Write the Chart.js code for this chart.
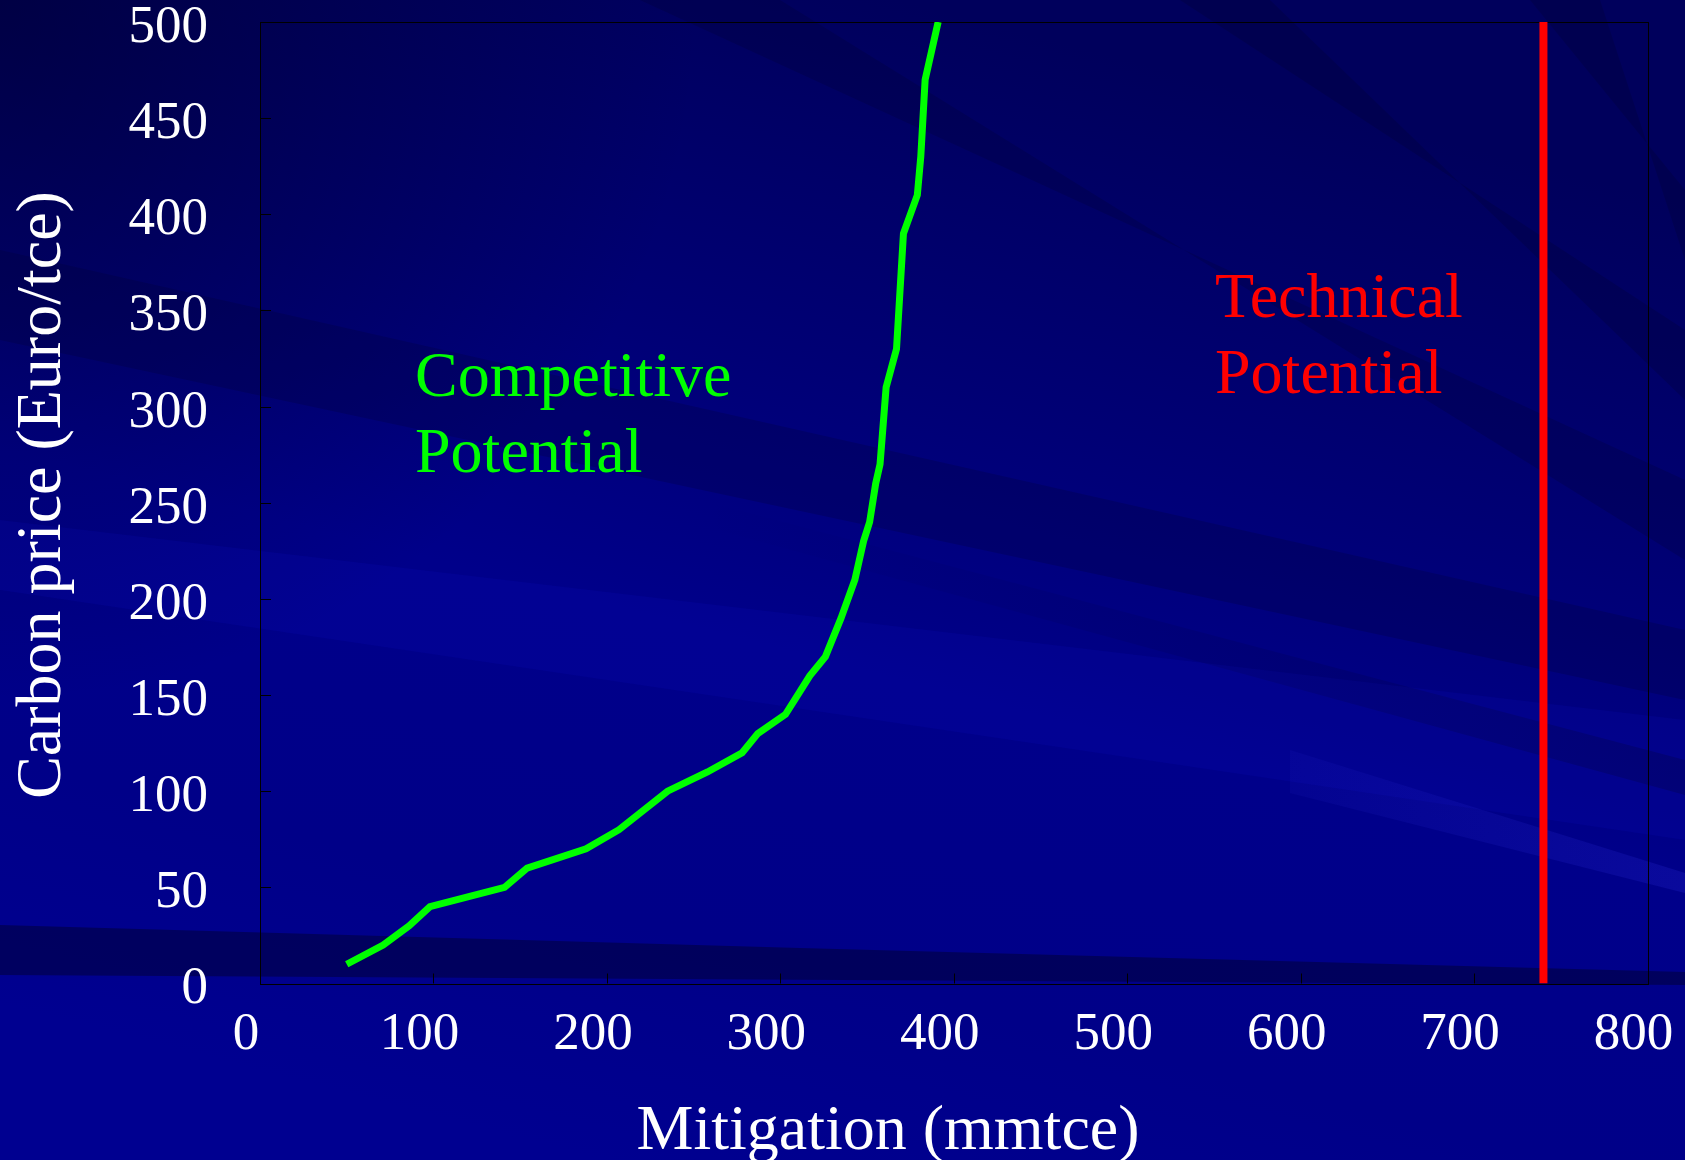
<!DOCTYPE html>
<html>
<head>
<meta charset="utf-8">
<script src="https://cdn.jsdelivr.net/npm/chart.js@4.4.1/dist/chart.umd.min.js"></script>
<style>
  html, body { margin: 0; padding: 0; background: #000080; overflow: hidden; }
  #wrap { width: 1685px; height: 1160px; position: relative; }
</style>
</head>
<body>
<div id="wrap"><canvas id="c" width="1685" height="1160"></canvas></div>
<script>
// Competitive potential curve: mitigation (mmtce) against carbon price (Euro/tce)
const mitigation = [50, 71, 86, 98, 141, 154, 188, 207, 235, 258, 278, 287, 303, 310, 317, 326, 335, 343, 348, 351.5, 355, 357.5, 361, 367, 371, 379, 381, 383.5, 391];
const carbonPrice = [10, 20, 30, 40, 50, 60, 70, 80, 100, 110, 120, 130, 140, 150, 160, 170, 190, 210, 230, 240, 260, 270, 310, 330, 390, 410, 430, 470, 500];

// Technical potential: a fixed mitigation level across the whole price range
const technicalPotential = 740;
const priceRange = [0, 500];

// Axis tick labels
const xTicks = [0, 100, 200, 300, 400, 500, 600, 700, 800];
const yTicks = [0, 50, 100, 150, 200, 250, 300, 350, 400, 450, 500];

const SERIF = '"Liberation Serif", "Times New Roman", Times, serif';

// Slide-style navy background with soft diagonal bands
const backdrop = {
  id: 'backdrop',
  beforeDraw(chart) {
    const ctx = chart.ctx, W = chart.width, H = chart.height;
    ctx.save();
    const g = ctx.createLinearGradient(900, 0, 600, H);
    g.addColorStop(0, '#00005c');
    g.addColorStop(0.3, '#000074');
    g.addColorStop(0.55, '#00008a');
    g.addColorStop(0.8, '#000088');
    g.addColorStop(1, '#000090');
    ctx.fillStyle = g;
    ctx.fillRect(0, 0, W, H);

    const r = ctx.createRadialGradient(0, 0, 0, 0, 0, 700);
    r.addColorStop(0, 'rgba(0,0,30,0.5)');
    r.addColorStop(1, 'rgba(0,0,30,0)');
    ctx.fillStyle = r;
    ctx.fillRect(0, 0, W, H);

    const band = (pts, color) => {
      ctx.beginPath();
      ctx.moveTo(pts[0][0], pts[0][1]);
      for (let i = 1; i < pts.length; i++) ctx.lineTo(pts[i][0], pts[i][1]);
      ctx.closePath();
      ctx.fillStyle = color;
      ctx.fill();
    };
    // lighter sweep through the middle
    band([[0, 520], [W, 720], [W, 840], [0, 590]], 'rgba(20,20,210,0.12)');
    // darker sweeps
    band([[0, 250], [W, 630], [W, 700], [0, 340]], 'rgba(0,0,40,0.2)');
    band([[0, 925], [800, 948], [W, 972], [W, 985], [0, 975]], 'rgba(0,0,40,0.45)');
    band([[640, 0], [780, 0], [W, 560], [W, 480]], 'rgba(0,0,40,0.2)');
    band([[1180, 0], [1270, 0], [W, 400], [W, 330]], 'rgba(0,0,40,0.22)');
    band([[1530, 0], [1600, 0], [W, 260], [W, 190]], 'rgba(0,0,40,0.22)');
    const fade = ctx.createLinearGradient(700, 0, W, 0);
    fade.addColorStop(0, 'rgba(0,0,40,0)');
    fade.addColorStop(1, 'rgba(0,0,40,0.22)');
    band([[700, 500], [W, 760], [W, 795], [700, 525]], fade);
    // pale stripe at lower right
    const lg = ctx.createLinearGradient(1290, 0, W, 0);
    lg.addColorStop(0, 'rgba(50,50,230,0.08)');
    lg.addColorStop(1, 'rgba(50,50,230,0.2)');
    band([[1290, 750], [W, 873], [W, 893], [1290, 793]], lg);
    ctx.restore();
  }
};

// Black frame around the plot with short inward tick marks
const frame = {
  id: 'frame',
  beforeDatasetsDraw(chart) {
    const { ctx, chartArea: a, scales } = chart;
    ctx.save();
    ctx.strokeStyle = '#000000';
    ctx.lineWidth = 1;
    ctx.strokeRect(Math.round(a.left) + 0.5, Math.round(a.top) + 0.5,
                   Math.round(a.right - a.left), Math.round(a.bottom - a.top));
    ctx.beginPath();
    scales.x.ticks.forEach(t => {
      const px = Math.round(scales.x.getPixelForValue(t.value)) + 0.5;
      ctx.moveTo(px, a.bottom);
      ctx.lineTo(px, a.bottom - 10);
    });
    scales.y.ticks.forEach(t => {
      const py = Math.round(scales.y.getPixelForValue(t.value)) + 0.5;
      ctx.moveTo(a.left, py);
      ctx.lineTo(a.left + 11, py);
    });
    ctx.stroke();
    ctx.restore();
  }
};

// Axis titles and the two curve captions
const captions = {
  id: 'captions',
  afterDraw(chart) {
    const { ctx, chartArea: a } = chart;
    ctx.save();
    ctx.textAlign = 'left';
    ctx.textBaseline = 'alphabetic';
    ctx.font = '64px ' + SERIF;
    ctx.fillStyle = '#00ff00';
    ctx.fillText('Competitive', a.left + 155, a.top + 374);
    ctx.fillText('Potential', a.left + 155, a.top + 450);
    ctx.fillStyle = '#ff0000';
    ctx.fillText('Technical', a.left + 955, a.top + 295);
    ctx.fillText('Potential', a.left + 955, a.top + 371);

    ctx.fillStyle = '#ffffff';
    ctx.font = '64px ' + SERIF;
    ctx.textAlign = 'center';
    ctx.fillText('Mitigation (mmtce)', 888, 1149);
    ctx.translate(60, 495);
    ctx.rotate(-Math.PI / 2);
    ctx.fillText('Carbon price (Euro/tce)', 0, 0);
    ctx.restore();
  }
};

// keep the plot box fixed regardless of tick label overhang
function noOverhang(s) {
  s.paddingTop = 0; s.paddingBottom = 0; s.paddingLeft = 0; s.paddingRight = 0;
}

const tickFont = { family: SERIF, size: 53, lineHeight: 1.2 };

new Chart(document.getElementById('c'), {
  type: 'line',
  data: {
    datasets: [
      {
        label: 'Competitive Potential',
        data: mitigation.map((x, i) => ({ x, y: carbonPrice[i] })),
        borderColor: '#00ff00',
        borderWidth: 7,
        pointRadius: 0,
        tension: 0,
        fill: false
      },
      {
        label: 'Technical Potential',
        data: priceRange.map(y => ({ x: technicalPotential, y })),
        borderColor: '#ff0000',
        borderWidth: 8,
        pointRadius: 0,
        tension: 0,
        fill: false
      }
    ]
  },
  options: {
    responsive: false,
    animation: false,
    devicePixelRatio: 1,
    layout: { padding: { top: 22, right: 37.5, left: 0, bottom: 0 } },
    plugins: { legend: { display: false }, tooltip: { enabled: false }, title: { display: false } },
    scales: {
      x: {
        type: 'linear',
        min: 0, max: 800,
        afterBuildTicks(s) { s.ticks = xTicks.map(v => ({ value: v })); },
        afterFit(s) { s.height = 176.5; noOverhang(s); },
        ticks: { color: '#ffffff', font: tickFont, padding: 20, labelOffset: -14, maxRotation: 0, autoSkip: false },
        grid: { display: false, drawTicks: false },
        border: { display: false }
      },
      y: {
        type: 'linear',
        min: 0, max: 500,
        afterBuildTicks(s) { s.ticks = yTicks.map(v => ({ value: v })); },
        afterFit(s) { s.width = 260; noOverhang(s); },
        ticks: { color: '#ffffff', font: tickFont, padding: 52, labelOffset: 6, autoSkip: false },
        grid: { display: false, drawTicks: false },
        border: { display: false }
      }
    }
  },
  plugins: [backdrop, frame, captions]
});
</script>
</body>
</html>
